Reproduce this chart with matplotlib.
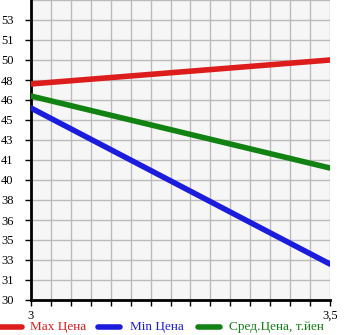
import numpy as np
import matplotlib.pyplot as plt
from matplotlib.lines import Line2D

# engine volume vs price (10k yen)
volume = [3.0, 3.5]
max_price = [47.74, 49.74]
min_price = [45.73, 32.7]
avg_price = [46.73, 40.72]

y_ticks = [29.7 + 1.67 * k for k in range(15)]
y_labels = ["30", "31", "33", "35", "36", "38", "40", "41", "43", "45",
            "46", "48", "50", "51", "53"]

red = "#dd1c1c"
blue = "#1c1cdd"
green = "#128212"

plt.rcParams["font.family"] = ["Liberation Serif", "DejaVu Serif"]

fig = plt.figure(figsize=(3.45, 3.35), dpi=100)
ax = fig.add_axes([31 / 345, 35 / 335, 299 / 345, 300 / 335])
ax.set_facecolor("#f6f6f6")

ax.plot(volume, max_price, color=red, lw=4, solid_capstyle="round", zorder=3)
ax.plot(volume, min_price, color=blue, lw=4, solid_capstyle="round", zorder=3)
ax.plot(volume, avg_price, color=green, lw=4, solid_capstyle="round", zorder=3)

ax.set_xlim(3.0, 3.5)
ax.set_ylim(29.7, 29.7 + 1.67 * 15)
ax.set_yticks(y_ticks)
ax.set_yticklabels(y_labels)
ax.set_xticks([3.0, 3.5])
ax.set_xticklabels(["3", "3,5"])
ax.set_xticks(np.linspace(3.0, 3.5, 16), minor=True)
ax.set_yticks([29.7 + 1.67 * 15], minor=True)

ax.grid(True, which="both", color="#bbbbbb", lw=1)
ax.set_axisbelow(True)
for side in ["top", "right"]:
    ax.spines[side].set_visible(False)
for side in ["left", "bottom"]:
    ax.spines[side].set_linewidth(2)
    ax.spines[side].set_color("black")

ax.tick_params(axis="y", which="both", length=4, width=1, pad=8.5, labelsize=9)
ax.tick_params(axis="x", which="both", length=4, width=1, pad=3, labelsize=9)
ax.tick_params(axis="y", which="minor", length=0)

# legend along the bottom
items = [("Max Цена", red, 0.0, 30), ("Min Цена", blue, 98, 130),
         ("Сред.Цена, т.йен", green, 198, 229)]
for label, c, x0, xt in items:
    fig.add_artist(Line2D([x0 / 345, (x0 + 22) / 345], [8 / 335, 8 / 335],
                          color=c, lw=4, solid_capstyle="round",
                          transform=fig.transFigure))
    fig.text(xt / 345, 8 / 335, label, color=c, fontsize=9.5, va="center")

fig.savefig("out.png", dpi=100)
